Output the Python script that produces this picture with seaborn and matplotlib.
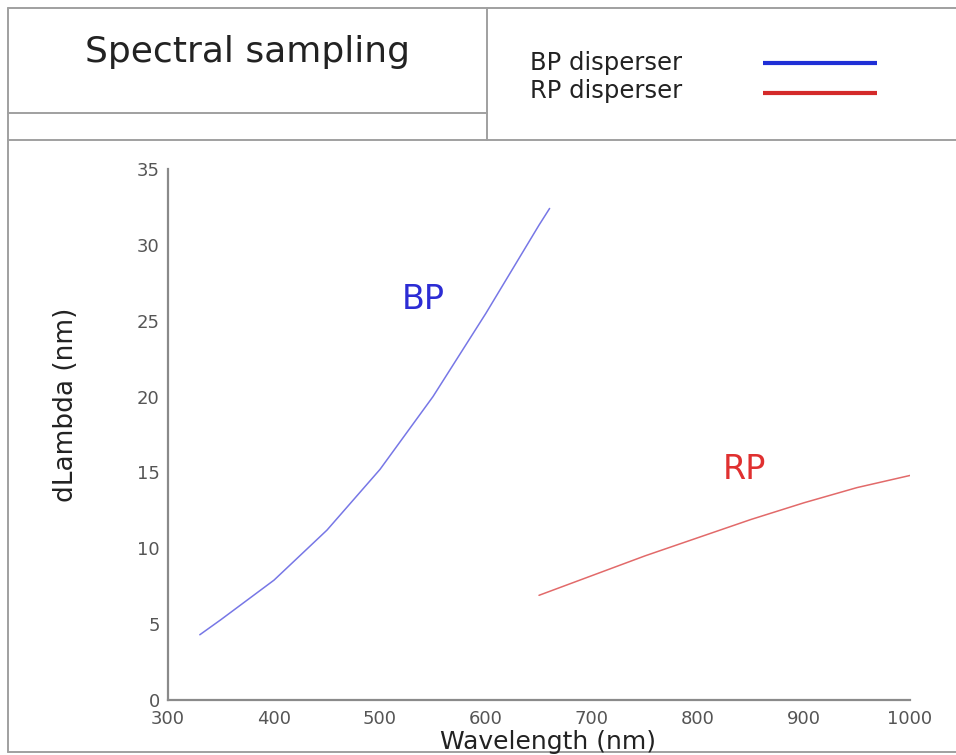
import matplotlib
matplotlib.use("Agg")
import matplotlib.pyplot as plt
import seaborn as sns
import pandas as pd

# ---- data ----
bp_wavelength = [330, 350, 400, 450, 500, 550, 600, 650, 660]
bp_dlambda = [4.3, 5.3, 7.9, 11.2, 15.2, 20.0, 25.5, 31.3, 32.4]
rp_wavelength = [650, 700, 750, 800, 850, 900, 950, 1000]
rp_dlambda = [6.9, 8.2, 9.5, 10.7, 11.9, 13.0, 14.0, 14.8]
x_ticks = [300, 400, 500, 600, 700, 800, 900, 1000]
y_ticks = [0, 5, 10, 15, 20, 25, 30, 35]
series_names = ["BP disperser", "RP disperser"]
title_text = "Spectral sampling"

sns.set_style("white")
plt.rcParams['font.family'] = ['DejaVu Sans']

W, H = 956, 755
fig = plt.figure(figsize=(W / 100, H / 100), dpi=100)

# overlay in pixel coordinates for the header frame
ov = fig.add_axes([0, 0, 1, 1])
ov.set_xlim(0, W)
ov.set_ylim(H, 0)
ov.axis("off")
frame_c = "#a0a0a0"
lw = 1.4
ov.plot([8, 8], [8, 752], color=frame_c, lw=lw)
ov.plot([8, W], [8, 8], color=frame_c, lw=lw)
ov.plot([8, W], [140, 140], color=frame_c, lw=lw)
ov.plot([8, W], [752, 752], color=frame_c, lw=lw)
ov.plot([487, 487], [8, 140], color=frame_c, lw=lw)
ov.plot([8, 487], [113, 113], color=frame_c, lw=lw)
ov.text(248, 62, title_text, ha="center", va="baseline", fontsize=26, color="#222222")
ov.text(530, 70, series_names[0], ha="left", va="baseline", fontsize=17.5, color="#222222")
ov.text(530, 98, series_names[1], ha="left", va="baseline", fontsize=17.5, color="#222222")
ov.plot([763, 877], [63, 63], color="#1f2fd6", lw=3, solid_capstyle="butt")
ov.plot([763, 877], [93, 93], color="#d42a2a", lw=3, solid_capstyle="butt")

# main plot
ax = fig.add_axes([168 / W, 55 / H, 742 / W, 531 / H])
df_bp = pd.DataFrame({"Wavelength": bp_wavelength, "dLambda": bp_dlambda})
df_rp = pd.DataFrame({"Wavelength": rp_wavelength, "dLambda": rp_dlambda})
sns.lineplot(data=df_bp, x="Wavelength", y="dLambda", ax=ax, color="#7777e6", lw=1.1)
sns.lineplot(data=df_rp, x="Wavelength", y="dLambda", ax=ax, color="#e26a6a", lw=1.1)
ax.set_xlim(300, 1000)
ax.set_ylim(0, 35)
ax.set_xticks(x_ticks)
ax.set_yticks(y_ticks)
ax.patch.set_alpha(0)
for s in ["top", "right"]:
    ax.spines[s].set_visible(False)
for s in ["left", "bottom"]:
    ax.spines[s].set_color("#8a8a8a")
    ax.spines[s].set_linewidth(1.6)
ax.tick_params(axis="both", direction="out", length=4, width=1, color="#8a8a8a",
               labelsize=13, labelcolor="#555555", pad=2)
ax.tick_params(axis="x", pad=3)
ax.set_xlabel("Wavelength (nm)", fontsize=18, color="#222222")
ax.set_ylabel("dLambda (nm)", fontsize=19, color="#222222")
ax.xaxis.set_label_coords(0.512, -0.056)
ax.yaxis.set_label_coords(-0.12, 0.556)
ax.text(540.6, 26.4, "BP", color="#2c2cd4", fontsize=24, ha="center", va="center")
ax.text(844, 15.2, "RP", color="#e03030", fontsize=24, ha="center", va="center")

fig.savefig("out.png", dpi=100)
